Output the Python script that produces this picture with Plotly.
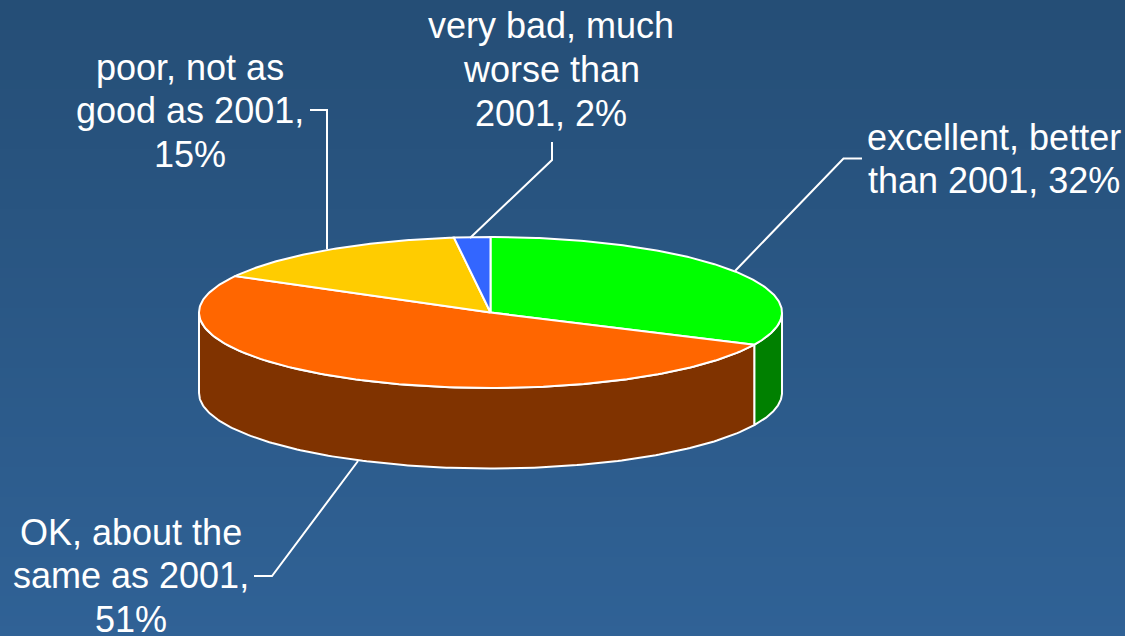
import numpy as np
import plotly.graph_objects as go

categories = ["excellent, better than 2001", "OK, about the same as 2001",
              "poor, not as good as 2001", "very bad, much worse than 2001"]
values = [32, 51, 15, 2]
top_colors = ["#00FF00", "#FF6600", "#FFCC00", "#3366FF"]
side_colors = ["#008000", "#803300", "#806600", "#1A3380"]
label_lines = [["excellent, better", "than 2001, 32%"],
               ["OK, about the", "same as 2001,", "51%"],
               ["poor, not as", "good as 2001,", "15%"],
               ["very bad, much", "worse than", "2001, 2%"]]
label_x = [994, 131, 190, 551]
label_y = [[137, 180], [532, 575, 619], [67, 110, 154], [25, 69, 113]]
leaders = [[(735, 271), (843.5, 158.5), (862, 158.5)],
           [(358, 461), (272, 576), (254, 576)],
           [(327, 249), (327, 110), (310, 110)],
           [(470, 238), (552, 160), (552, 142)]]

W, H = 1125, 636
CX, CY, RX, RY, DEPTH = 490.5, 312.5, 291.5, 75.5, 80.5
LINE = "#FFFFFF"
FONT = "Liberation Sans, Arial, sans-serif"


def rim(a0, a1, n=180):
    t = np.radians(np.linspace(a0, a1, n))
    return CX + RX * np.sin(t), CY - RY * np.cos(t)


fig = go.Figure()

# background gradient
yy = np.linspace(0, H, 65)
fig.add_trace(go.Heatmap(
    x=[0, W], y=yy, z=[[v, v] for v in yy[:-1]], zmin=0, zmax=H,
    colorscale=[[0, "#254E76"], [1, "#306296"]], showscale=False, hoverinfo="skip",
))

# slice angles, clockwise from the top
edges = np.concatenate([[0], np.cumsum(values)]) / np.sum(values) * 360

# side walls (only the front half of the rim is visible)
for i in range(len(values)):
    a0, a1 = max(edges[i], 90), min(edges[i + 1], 270)
    if a1 <= a0:
        continue
    x, y = rim(a0, a1)
    fig.add_trace(go.Scatter(
        x=np.concatenate([x, x[::-1], x[:1]]),
        y=np.concatenate([y, y[::-1] + DEPTH, y[:1]]),
        mode="lines", fill="toself", fillcolor=side_colors[i],
        line=dict(color=LINE, width=2), hoverinfo="skip", showlegend=False,
    ))

# top faces
for i in range(len(values)):
    x, y = rim(edges[i], edges[i + 1])
    fig.add_trace(go.Scatter(
        x=np.concatenate([[CX], x, [CX]]),
        y=np.concatenate([[CY], y, [CY]]),
        mode="lines", fill="toself", fillcolor=top_colors[i],
        line=dict(color=LINE, width=2), name=categories[i],
        hoverinfo="name", showlegend=False,
    ))

# leader lines
for pts in leaders:
    fig.add_trace(go.Scatter(
        x=[p[0] for p in pts], y=[p[1] for p in pts], mode="lines",
        line=dict(color=LINE, width=2), hoverinfo="skip", showlegend=False,
    ))

for lines, x, ys in zip(label_lines, label_x, label_y):
    for txt, y in zip(lines, ys):
        fig.add_annotation(x=x, y=y, xref="x", yref="y", text=txt, showarrow=False,
                           align="center", xanchor="center", yanchor="middle",
                           font=dict(family=FONT, size=36, color="#FFFFFF"))

fig.update_layout(
    width=W, height=H, margin=dict(l=0, r=0, t=0, b=0),
    paper_bgcolor="#2A5786", plot_bgcolor="#2A5786", showlegend=False,
    xaxis=dict(range=[0, W], visible=False, fixedrange=True),
    yaxis=dict(range=[H, 0], visible=False, fixedrange=True),
)
fig.write_html("out.html", config={"displayModeBar": False},
               post_script="document.body.style.margin='0';document.body.style.overflow='hidden';"
                           "document.documentElement.style.background='#2A5786';")
